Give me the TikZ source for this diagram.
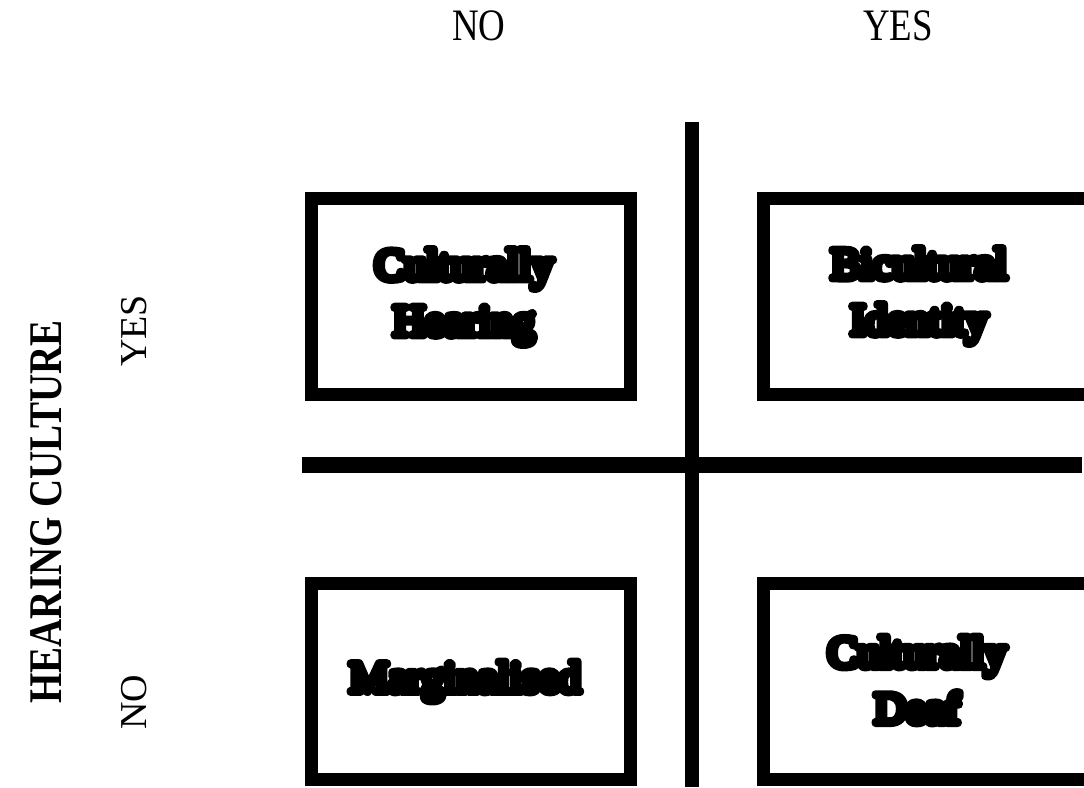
\documentclass[tikz,border=0pt]{standalone}
\usepackage{fontspec}
\setmainfont{Liberation Serif}

% Emboldened face for the quadrant words: each glyph is stroked with a heavy outline,
% with round joins so sharp corners do not spike
\font\blobface="Liberation Serif:embolden=18" at 44pt
\newcommand\blobtext{\special{pdf:literal direct 1 j 1 J}\blobface\baselineskip=56pt\relax}

\tikzset{
  quad/.style={draw=black, line width=13pt, rectangle, inner sep=0pt,
               minimum width=319pt, minimum height=196pt},
  cell/.style={align=center, inner sep=0pt, font=\blobtext},
  colhead/.style={inner sep=0pt, anchor=base, xscale=0.82, font=\fontsize{45}{50}\selectfont},
  rowhead/.style={inner sep=0pt, rotate=90, font=\fontsize{38}{40}\selectfont},
  axis/.style={inner sep=0pt, rotate=90, font=\bfseries\fontsize{39}{42}\selectfont},
  divider/.style={line width=#1, line cap=butt}
}

\begin{document}
\begin{tikzpicture}[x=1pt,y=-1pt]
  \useasboundingbox[fill=white] (0,0) rectangle (1084,787);

  % column headings
  \node[colhead] (cno)  at (479,40) {NO};
  \node[colhead] (cyes) at (898,40) {YES};

  % row headings
  \node[axis]    (hc)   at (46,512)  {\scalebox{1}[1.2]{HEARING CULTURE}};
  \node[rowhead] (ryes) at (134,331) {YES};
  \node[rowhead] (rno)  at (134,702) {NO};

  % dividing cross
  \coordinate (vtop) at (692,122);
  \coordinate (vbot) at (692,787);
  \coordinate (hl)   at (302,465);
  \coordinate (hr)   at (1082,465);
  \draw[divider=14pt] (vtop) -- (vbot);
  \draw[divider=16pt] (hl) -- (hr);

  % quadrant frames
  \node[quad] (qtl) at (471,296.5) {};
  \node[quad, minimum width=335pt] (qtr) at (931,296.5) {};
  \node[quad] (qbl) at (471,681) {};
  \node[quad, minimum width=335pt] (qbr) at (931,681) {};

  % quadrant labels
  \node[cell] (ch)  at (464,297) {Culturally\\Hearing};
  \node[cell] (bi)  at (919,296) {Bicultural\\Identity};
  \node[cell, anchor=base] (mg) at (465,692) {Marginalised};
  \node[cell] (cd)  at (917,680) {Culturally\\Deaf};
\end{tikzpicture}
\end{document}
